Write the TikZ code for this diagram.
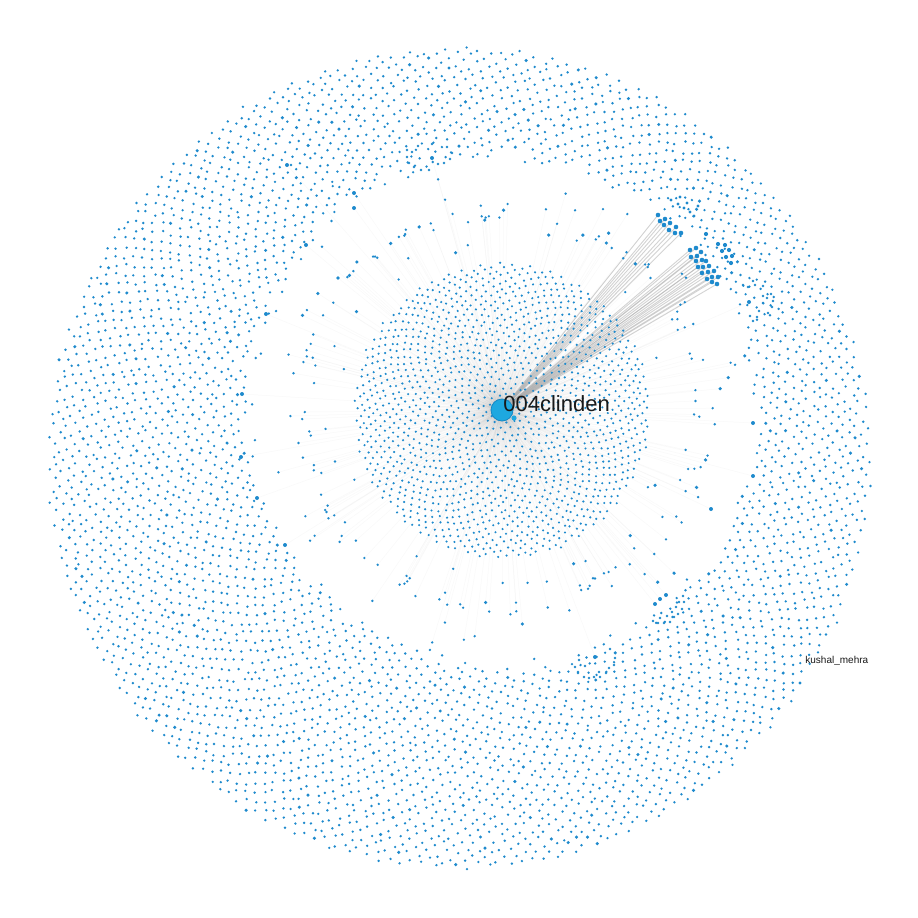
\documentclass[tikz,border=0pt]{standalone}
\usepackage{fontspec}
\setmainfont{Liberation Sans}
\definecolor{dotc}{RGB}{30,138,205}
\definecolor{hubc}{RGB}{30,168,224}
\definecolor{hubd}{RGB}{22,136,196}
\definecolor{edgec}{RGB}{150,150,150}
\definecolor{fanc}{RGB}{175,175,175}
\definecolor{txtc}{RGB}{25,25,25}
\newcommand\hsh[1]{(sin(#1*12.9898)*43758.5453-floor(sin(#1*12.9898)*43758.5453))}
\newcommand\innerpt{%
  \edef\myrad{\fpeval{148*sqrt((\i-0.5)/1500)}}%
  \edef\myang{\fpeval{\i*137.50776405}}%
  \edef\px{\fpeval{round(502+\myrad*cosd(\myang)+2.2*(\hsh{\i}-0.5),2)}}%
  \edef\py{\fpeval{round(411+\myrad*sind(\myang)+2.2*(\hsh{(\i+0.37)}-0.5),2)}}}
\newcommand\midpt{%
  \edef\myang{\fpeval{\i*137.50776405+25*\hsh{(\i+5.1)}}}%
  \edef\myrad{\fpeval{(\hsh{(\i+2.3)}<0.55) ? (190+22*\hsh{(\i+8.8)}) : (162+82*\hsh{(\i+9.9)})}}%
  \edef\px{\fpeval{round(502+\myrad*cosd(\myang),2)}}%
  \edef\py{\fpeval{round(411+\myrad*sind(\myang),2)}}}
\begin{document}
\begin{tikzpicture}[x=0.5pt,y=-0.5pt,
  faint/.style={draw=edgec,line width=0.22pt,opacity=0.022},
  midedge/.style={draw=edgec,line width=0.25pt,opacity=0.05},
  fanedge/.style={draw=fanc,line width=0.45pt,opacity=0.55},
  smalldot/.style={fill=dotc},
  bigdot/.style={fill=dotc}]
\useasboundingbox (0,0) rectangle (918,918);
\fill[white] (0,0) rectangle (918,918);
\coordinate (hubc) at (502,410);

% ---------- edges first ----------
\foreach \i in {1,...,1500}{\innerpt \draw[faint] (hubc) -- (\px,\py);}
\foreach \i in {1,...,190}{\midpt \draw[midedge] (hubc) -- (\px,\py);}
\foreach \x/\y in {658/215,665/219,660/221,670/223,664/225,676/227,669/230,675/233,681/233,
  690/250,696/248,701/252,691/257,697/256,702/260,696/261,706/261,698/267,703/267,709/266,
  702/273,708/272,714/271,707/279,712/277,718/277,712/282,717/284}{
  \draw[fanedge] (hubc) -- (\x,\y);}
\foreach \x/\y in {432/158,595/657,749/302,660/599,666/595,655/604,354/208,354/193,306/245,287/165,
  266/314,241/457,257/498,285/545,242/394,753/423,711/509,753/476}{
  \draw[midedge] (hubc) -- (\x,\y);}

% ---------- inner disc ----------
\foreach \i in {1,...,1500}{\innerpt \fill[smalldot] (\px,\py) circle[radius=0.6pt];}

% ---------- outer annulus ----------
\foreach \i in {1220,...,6600}{
  \edef\myrad{\fpeval{411*sqrt((\i-0.5)/6600)}}
  \edef\myang{\fpeval{\i*137.50776405}}
  \edef\px{\fpeval{round(459+\myrad*cosd(\myang)+4*(\hsh{\i}-0.5),2)}}
  \edef\py{\fpeval{round(458+\myrad*sind(\myang)+4*(\hsh{(\i+0.37)}-0.5),2)}}
  \ifnum\fpeval{((\px-502)^2+(\py-411)^2) > (246+18*\hsh{(\i*1.7)})^2}=1
    \ifnum\fpeval{\hsh{(\i+3.3)}>0.95}=1
      \fill[bigdot] (\px,\py) circle[radius=0.85pt];
    \else
      \fill[smalldot] (\px,\py) circle[radius=0.66pt];
    \fi
  \fi
}

% ---------- middle zone ----------
\foreach \i in {1,...,190}{
  \midpt
  \ifnum\fpeval{\hsh{(\i+4.4)}>0.85}=1
    \fill[bigdot] (\px,\py) circle[radius=0.9pt];
  \else
    \fill[smalldot] (\px,\py) circle[radius=0.66pt];
  \fi
}

% ---------- fan groups ----------
\foreach \x/\y in {658/215,665/219,660/221,670/223,664/225,676/227,669/230,675/233,681/233,
  690/250,696/248,701/252,691/257,697/256,702/260,696/261,706/261,698/267,703/267,709/266,
  702/273,708/272,714/271,707/279,712/277,718/277,712/282,717/284}{
  \fill[bigdot] (\x,\y) circle[radius=1.15pt];
}
\foreach \x/\y in {718/244,725/245,722/251,729/250,726/257,732/256,731/263,706/234}{
  \fill[bigdot] (\x,\y) circle[radius=1.05pt];
}
\foreach \x/\y in {680/197,671/200,687/203,678/204,698/206,684/208,690/212,694/216}{
  \fill[bigdot] (\x,\y) circle[radius=0.8pt];
}

% ---------- local sub-hubs with rings ----------
\foreach \x/\y in {407/150,407/157,409/163,414/167,421/170,429/170,438/164,444/163,450/159,452/153,447/147,432/144,418/146,412/152,
  579/660,575/667,578/672,584/677,589/678,594/677,600/677,606/673,609/668,614/665,615/658,610/649,585/666,599/672,
  743/285,748/287,753/281,755/285,763/286,763/296,767/298,763/303,759/311,757/317,750/316,753/321,768/313,772/307,773/301,771/294,
  679/602,684/602,676/607,682/609,672/612,678/614,667/616,674/617,660/618,653/621,658/623,664/623,670/622,683/596}{
  \fill[smalldot] (\x,\y) circle[radius=0.66pt];
}
\foreach \x/\y in {432/158,595/657,749/302,660/599,666/595,655/604,354/208,354/193,306/245,287/165,
  266/314,241/457,257/498,285/545,242/394,753/423,711/509,753/476}{
  \fill[bigdot] (\x,\y) circle[radius=1.0pt];
}

% ---------- hub and labels ----------
\node[circle,fill=hubc,draw=hubd,line width=0.4pt,minimum size=11pt,inner sep=0pt] (hub) at (hubc) {};
\fill[hubc] (514,418) circle[radius=1.3pt];
\node[anchor=base west,inner sep=0pt,text=txtc,font=\fontsize{11}{13}\selectfont] (lbl) at (503,411) {004clinden};
\node[anchor=base west,inner sep=0pt,text=txtc,font=\fontsize{5}{6}\selectfont] (lbl2) at (805,663) {kushal\_mehra};
\end{tikzpicture}
\end{document}
